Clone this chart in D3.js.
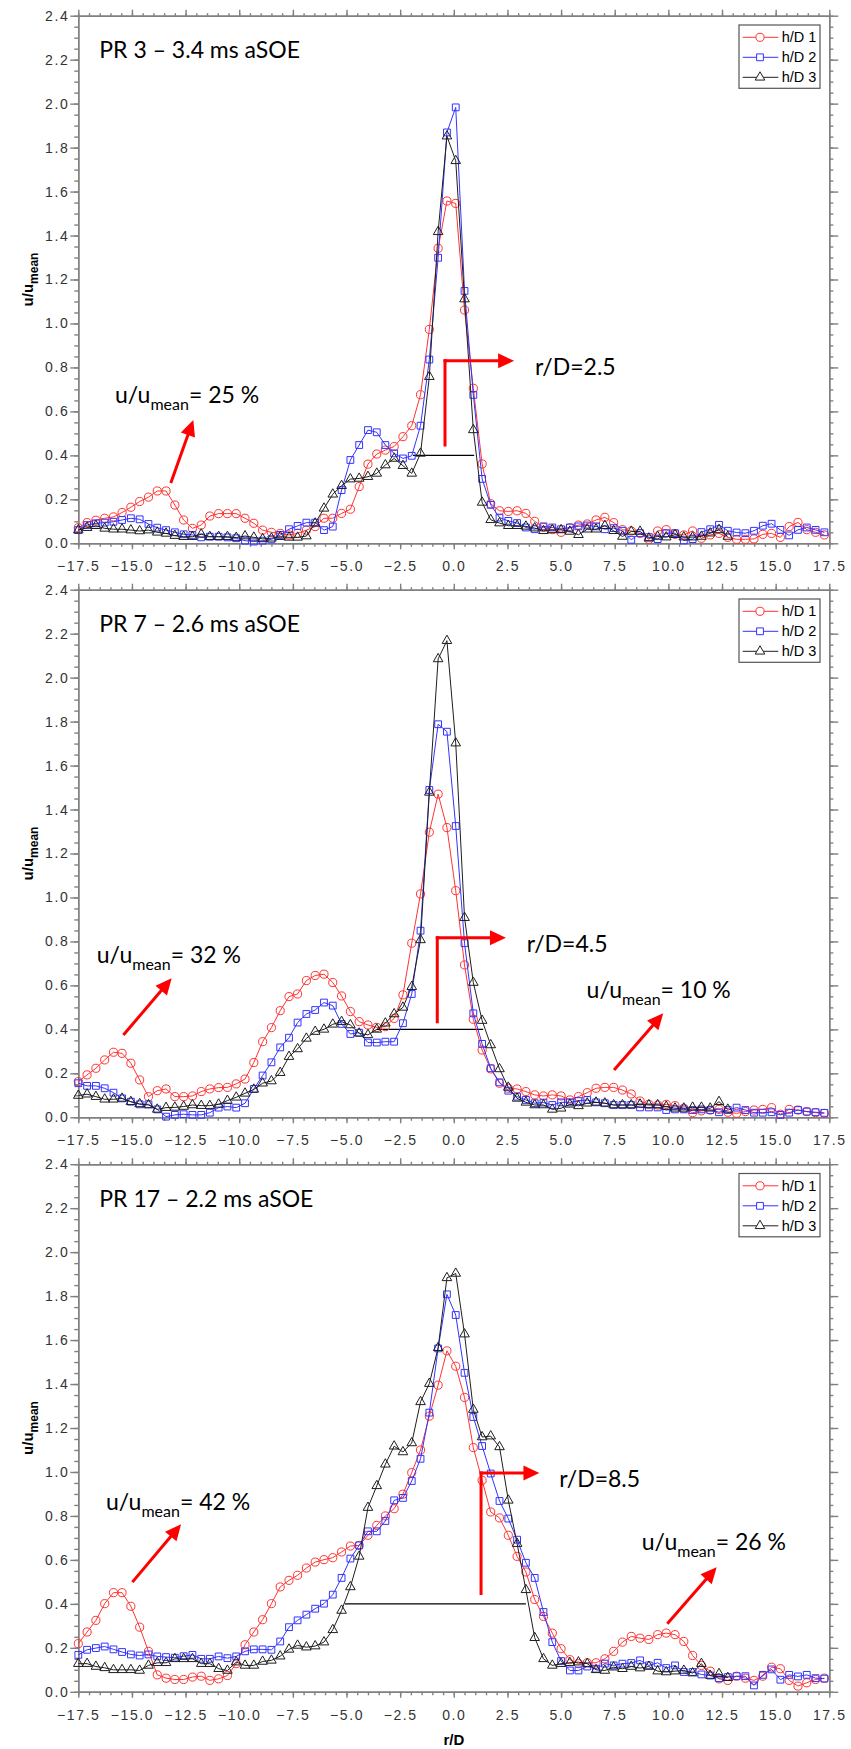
<!DOCTYPE html>
<meta charset="utf-8">
<html>
<head>
<style>
  body { margin: 0; background: #fff; }
  .axis path, .axis line { stroke: #808080; stroke-width: 1.4px; }
  .axis text { font-family: "Liberation Sans", Arial, sans-serif; font-size: 14px; fill: #333; letter-spacing: 1.6px; }
  .series { fill: none; stroke-width: 1px; }
  .mark { fill: none; stroke-width: 1px; }
  .big { font-family: Lato, "Open Sans", sans-serif; font-size: 23px; fill: #000; }
  .lab { font: bold 15px "Liberation Sans", Arial, sans-serif; fill: #000; }
  .leg { font: 14.5px "Liberation Sans", Arial, sans-serif; fill: #000; }
</style>
<script src="https://d3js.org/d3.v7.min.js"></script>
</head>
<body>
<svg id="svg" width="851" height="1749"></svg>
<script>

    // r/D positions of the measuring points (same grid for every profile)
    var rD = [-17.50, -17.09, -16.68, -16.27, -15.86, -15.46, -15.05, -14.64, -14.23, -13.82,
        -13.41, -13.00, -12.59, -12.18, -11.77, -11.37, -10.96, -10.55, -10.14, -9.73,
        -9.32, -8.91, -8.50, -8.09, -7.68, -7.28, -6.87, -6.46, -6.05, -5.64,
        -5.23, -4.82, -4.41, -4.00, -3.59, -3.19, -2.78, -2.37, -1.96, -1.55,
        -1.14, -0.73, -0.32, 0.09, 0.50, 0.91, 1.32, 1.72, 2.13, 2.54,
        2.95, 3.36, 3.77, 4.18, 4.59, 5.00, 5.41, 5.81, 6.22, 6.63,
        7.04, 7.45, 7.86, 8.27, 8.68, 9.09, 9.50, 9.90, 10.31, 10.72,
        11.13, 11.54, 11.95, 12.36, 12.77, 13.18, 13.59, 13.99, 14.40, 14.81,
        15.22, 15.63, 16.04, 16.45, 16.86, 17.27];

    // PR 3 - 3.4 ms aSOE
    var pr3Hd1 = [0.071, 0.094, 0.105, 0.114, 0.12, 0.14, 0.164, 0.19, 0.21, 0.238,
        0.238, 0.174, 0.106, 0.068, 0.083, 0.124, 0.135, 0.135, 0.135, 0.114,
        0.091, 0.06, 0.05, 0.045, 0.038, 0.045, 0.06, 0.076, 0.114, 0.114,
        0.136, 0.155, 0.258, 0.36, 0.406, 0.424, 0.44, 0.485, 0.535, 0.676,
        0.973, 1.342, 1.557, 1.546, 1.061, 0.705, 0.361, 0.18, 0.148, 0.145,
        0.148, 0.136, 0.1, 0.072, 0.062, 0.05, 0.07, 0.083, 0.088, 0.106,
        0.118, 0.094, 0.062, 0.056, 0.045, 0.018, 0.056, 0.062, 0.041, 0.038,
        0.056, 0.023, 0.038, 0.045, 0.027, 0.018, 0.018, 0.02, 0.041, 0.045,
        0.027, 0.076, 0.095, 0.062, 0.05, 0.038];
    var pr3Hd2 = [0.06, 0.083, 0.091, 0.094, 0.098, 0.106, 0.114, 0.109, 0.088, 0.071,
        0.06, 0.05, 0.041, 0.038, 0.027, 0.03, 0.03, 0.027, 0.023, 0.012,
        0.008, 0.012, 0.018, 0.038, 0.064, 0.079, 0.094, 0.094, 0.06, 0.076,
        0.242, 0.379, 0.447, 0.515, 0.505, 0.447, 0.409, 0.386, 0.398, 0.535,
        0.836, 1.299, 1.869, 1.983, 1.148, 0.675, 0.293, 0.175, 0.117, 0.102,
        0.092, 0.072, 0.064, 0.077, 0.072, 0.064, 0.072, 0.077, 0.081, 0.077,
        0.064, 0.069, 0.057, 0.016, 0.046, 0.028, 0.019, 0.046, 0.046, 0.013,
        0.019, 0.051, 0.064, 0.084, 0.057, 0.049, 0.046, 0.057, 0.08, 0.089,
        0.061, 0.036, 0.061, 0.072, 0.061, 0.05];
    var pr3Hd3 = [0.06, 0.071, 0.08, 0.068, 0.064, 0.064, 0.06, 0.056, 0.06, 0.05,
        0.045, 0.035, 0.03, 0.03, 0.041, 0.03, 0.03, 0.03, 0.026, 0.033,
        0.027, 0.02, 0.023, 0.03, 0.027, 0.027, 0.033, 0.091, 0.159, 0.223,
        0.262, 0.292, 0.295, 0.303, 0.318, 0.356, 0.386, 0.353, 0.318, 0.409,
        0.758, 1.417, 1.852, 1.74, 1.111, 0.516, 0.186, 0.107, 0.092, 0.08,
        0.08, 0.077, 0.069, 0.057, 0.061, 0.061, 0.054, 0.039, 0.064, 0.064,
        0.08, 0.057, 0.031, 0.054, 0.054, 0.023, 0.031, 0.028, 0.039, 0.028,
        0.028, 0.031, 0.046, 0.061, 0.031, null, null, null, null, null,
        null, null, null, null, null, null];

    // PR 7 - 2.6 ms aSOE
    var pr7Hd1 = [0.162, 0.193, 0.223, 0.261, 0.296, 0.291, 0.246, 0.17, 0.094, 0.121,
        0.129, 0.094, 0.094, 0.097, 0.117, 0.129, 0.135, 0.136, 0.152, 0.174,
        0.249, 0.344, 0.408, 0.485, 0.549, 0.561, 0.622, 0.645, 0.651, 0.613,
        0.552, 0.481, 0.435, 0.42, 0.409, 0.412, 0.45, 0.557, 0.792, 1.016,
        1.297, 1.47, 1.318, 1.031, 0.693, 0.446, 0.306, 0.22, 0.155, 0.132,
        0.129, 0.117, 0.102, 0.097, 0.102, 0.097, 0.079, 0.094, 0.112, 0.132,
        0.136, 0.136, 0.124, 0.106, 0.074, 0.059, 0.056, 0.059, 0.053, 0.041,
        0.021, 0.029, 0.033, 0.036, 0.023, 0.018, 0.026, 0.033, 0.036, 0.044,
        0.014, 0.036, 0.033, 0.026, 0.021, 0.018];
    var pr7Hd2 = [0.155, 0.143, 0.143, 0.132, 0.112, 0.086, 0.071, 0.059, 0.059, 0.036,
        0.003, 0.011, 0.014, 0.011, 0.011, 0.021, 0.044, 0.049, 0.044, 0.064,
        0.129, 0.19, 0.25, 0.318, 0.362, 0.431, 0.47, 0.488, 0.522, 0.508,
        0.425, 0.379, 0.385, 0.34, 0.34, 0.344, 0.344, 0.428, 0.561, 0.849,
        1.489, 1.788, 1.754, 1.325, 0.792, 0.473, 0.334, 0.223, 0.159, 0.121,
        0.094, 0.079, 0.064, 0.067, 0.056, 0.068, 0.068, 0.074, 0.079, 0.068,
        0.064, 0.056, 0.056, 0.056, 0.045, 0.045, 0.045, 0.033, 0.036, 0.036,
        0.033, 0.036, 0.033, 0.023, 0.033, 0.044, 0.033, 0.021, 0.021, 0.023,
        0.011, 0.021, 0.033, 0.026, 0.023, 0.02];
    var pr7Hd3 = [0.099, 0.105, 0.094, 0.082, 0.082, 0.086, 0.071, 0.061, 0.056, 0.036,
        0.044, 0.045, 0.049, 0.056, 0.053, 0.053, 0.059, 0.076, 0.091, 0.109,
        0.127, 0.155, 0.165, 0.203, 0.276, 0.311, 0.359, 0.39, 0.4, 0.423,
        0.435, 0.42, 0.382, 0.375, 0.4, 0.428, 0.47, 0.5, 0.594, 0.807,
        1.478, 2.085, 2.168, 1.702, 0.908, 0.613, 0.44, 0.329, 0.22, 0.136,
        0.086, 0.068, 0.056, 0.056, 0.036, 0.041, 0.059, 0.052, 0.064, 0.068,
        0.064, 0.056, 0.056, 0.056, 0.059, 0.056, 0.056, 0.049, 0.041, 0.041,
        0.045, 0.045, 0.041, 0.071, 0.036, null, null, null, null, null,
        null, null, null, null, null, null];

    // PR 17 - 2.2 ms aSOE
    var pr17Hd1 = [0.219, 0.272, 0.325, 0.401, 0.451, 0.451, 0.389, 0.294, 0.184, 0.077,
        0.062, 0.056, 0.056, 0.067, 0.071, 0.052, 0.059, 0.074, 0.128, 0.214,
        0.272, 0.328, 0.401, 0.477, 0.507, 0.53, 0.563, 0.59, 0.601, 0.61,
        0.636, 0.663, 0.666, 0.712, 0.757, 0.8, 0.833, 0.899, 0.997, 1.1,
        1.254, 1.395, 1.551, 1.481, 1.339, 1.111, 0.962, 0.818, 0.791, 0.712,
        0.616, 0.545, 0.42, 0.343, 0.267, 0.196, 0.146, 0.128, 0.132, 0.132,
        0.15, 0.184, 0.226, 0.252, 0.244, 0.238, 0.26, 0.267, 0.26, 0.229,
        0.165, 0.12, 0.094, 0.059, 0.052, 0.071, 0.062, 0.052, 0.071, 0.112,
        0.105, 0.052, 0.026, 0.041, 0.056, 0.062];
    var pr17Hd2 = [0.168, 0.191, 0.199, 0.206, 0.193, 0.181, 0.17, 0.165, 0.17, 0.161,
        0.158, 0.155, 0.162, 0.168, 0.15, 0.15, 0.161, 0.153, 0.161, 0.184,
        0.193, 0.193, 0.191, 0.229, 0.294, 0.325, 0.351, 0.378, 0.401, 0.442,
        0.518, 0.606, 0.666, 0.73, 0.73, 0.777, 0.871, 0.882, 0.959, 1.06,
        1.27, 1.562, 1.808, 1.714, 1.451, 1.25, 1.118, 0.993, 0.868, 0.788,
        0.692, 0.587, 0.518, 0.363, 0.226, 0.14, 0.097, 0.097, 0.115, 0.105,
        0.128, 0.12, 0.128, 0.131, 0.143, 0.12, 0.132, 0.108, 0.12, 0.09,
        0.09, 0.079, 0.074, 0.062, 0.067, 0.071, 0.071, 0.029, 0.077, 0.102,
        0.055, 0.077, 0.07, 0.077, 0.062, 0.06];
    var pr17Hd3 = [0.128, 0.128, 0.115, 0.109, 0.1, 0.1, 0.1, 0.097, 0.12, 0.132,
        0.132, 0.15, 0.15, 0.15, 0.128, 0.128, 0.105, 0.097, 0.135, 0.12,
        0.12, 0.138, 0.143, 0.162, 0.193, 0.211, 0.203, 0.208, 0.226, 0.282,
        0.37, 0.477, 0.616, 0.838, 0.937, 1.035, 1.117, 1.091, 1.132, 1.319,
        1.402, 1.565, 1.883, 1.903, 1.627, 1.284, 1.159, 1.163, 1.114, 0.871,
        0.674, 0.464, 0.246, 0.15, 0.12, 0.128, 0.132, 0.135, 0.128, 0.1,
        0.097, 0.112, 0.105, 0.115, 0.108, 0.115, 0.094, 0.09, 0.094, 0.097,
        0.085, 0.128, 0.074, 0.082, 0.064, null, null, null, null, null,
        null, null, null, null, null, null];

    var seriesNames = ["h/D 1", "h/D 2", "h/D 3"];
    var titles = ["PR 3 \u2013 3.4 ms aSOE", "PR 7 \u2013 2.6 ms aSOE", "PR 17 \u2013 2.2 ms aSOE"];
    var xTicks = [-17.5, -15, -12.5, -10, -7.5, -5, -2.5, 0, 2.5, 5, 7.5, 10, 12.5, 15, 17.5];
    var yTicks = [0, 0.2, 0.4, 0.6, 0.8, 1.0, 1.2, 1.4, 1.6, 1.8, 2.0, 2.2, 2.4];

    // jet width at u/umean = 0.4 (black line) and its label
    var widthSpan = [[-1.9, 0.95], [-3.59, 1.37], [-5.07, 3.36]];
    var widthText = ["r/D=2.5", "r/D=4.5", "r/D=8.5"];
    var widthLevel = 0.4;

    // side lobe annotations: text anchor, arrow start, arrow tip (data coords)
    var lobes = [
        [{pct: "25 %", at: [-15.79, 0.637], from: [-13.19, 0.274], to: [-12.14, 0.561]}],
        [{pct: "32 %", at: [-16.64, 0.70], from: [-15.40, 0.374], to: [-13.15, 0.632]},
         {pct: "10 %", at: [6.19, 0.541], from: [7.47, 0.215], to: [9.76, 0.473]}],
        [{pct: "42 %", at: [-16.21, 0.826], from: [-14.98, 0.499], to: [-12.71, 0.762]},
         {pct: "26 %", at: [8.76, 0.643], from: [9.95, 0.31], to: [12.25, 0.567]}]
    ];
    // red bent arrow pointing at the width label
    var brackets = [
        {x: -0.41, y0: 0.44, y1: 0.83, tip: 2.81, text: [3.78, 0.766]},
        {x: -0.77, y0: 0.428, y1: 0.817, tip: 2.43, text: [3.40, 0.753]},
        {x: 1.27, y0: 0.44, y1: 0.995, tip: 3.99, text: [4.92, 0.932]}
    ];

    var panels = [
        [pr3Hd1, pr3Hd2, pr3Hd3],
        [pr7Hd1, pr7Hd2, pr7Hd3],
        [pr17Hd1, pr17Hd2, pr17Hd3]
    ];

    var svg = d3.select("svg");
    var left = 78.3, right = 829.3, plotH = 527.6;
    var tops = [15.7, 589.7, 1164.2];
    var colors = ["#ff3333", "#3333ff", "#1e1e1e"];
    var shapes = [d3.symbolCircle, d3.symbolSquare, d3.symbolTriangle];
    var sizes = [52, 46, 40];

    var x = d3.scaleLinear().domain([-17.5, 17.5]).range([left, right]);
    var xMinor = d3.range(-17.5, 17.51, 0.5);
    var yMinor = d3.range(0, 2.401, 0.05);

    function arrow(g, x1, y1, x2, y2) {
        var dx = x2 - x1, dy = y2 - y1, len = Math.sqrt(dx * dx + dy * dy);
        var ux = dx / len, uy = dy / len, hl = 16, hw = 7.5;
        var bx = x2 - ux * hl, by = y2 - uy * hl;
        g.append("line")
            .attr("x1", x1).attr("y1", y1).attr("x2", bx + ux).attr("y2", by + uy)
            .attr("stroke", "#ff0000").attr("stroke-width", 3);
        g.append("path")
            .attr("d", "M" + x2 + "," + y2 + "L" + (bx - uy * hw) + "," + (by + ux * hw)
                + "L" + (bx + uy * hw) + "," + (by - ux * hw) + "Z")
            .attr("fill", "#ff0000");
    }

    function uText(g, px, py, pct) {
        var t = g.append("text").attr("class", "big").attr("x", px).attr("y", py);
        t.append("tspan").text("u/u");
        t.append("tspan").attr("dy", 7).style("font-size", "16px").text("mean");
        t.append("tspan").attr("dy", -7).text("= " + pct);
    }

    panels.forEach(function (data, p) {
        var top = tops[p];
        var y = d3.scaleLinear().domain([0, 2.4]).range([top + plotH, top]);
        var g = svg.append("g");

        // axes: minor ticks first, then major
        var bottom = g.append("g").attr("class", "axis").attr("transform", "translate(0," + (top + plotH) + ")");
        bottom.call(d3.axisBottom(x).tickValues(xMinor).tickSize(3.5).tickSizeOuter(0).tickFormat(""));
        bottom.append("g").call(d3.axisBottom(x).tickValues(xTicks).tickSize(6).tickSizeOuter(0)
            .tickPadding(12).tickFormat(d3.format(".1f")));
        var topAx = g.append("g").attr("class", "axis").attr("transform", "translate(0," + top + ")");
        topAx.call(d3.axisTop(x).tickValues(xMinor).tickSize(2.5).tickSizeOuter(0).tickFormat(""));
        topAx.append("g").call(d3.axisTop(x).tickValues(xTicks).tickSize(6).tickSizeOuter(0).tickFormat(""));
        var leftAx = g.append("g").attr("class", "axis").attr("transform", "translate(" + left + ",0)");
        leftAx.call(d3.axisLeft(y).tickValues(yMinor).tickSize(4).tickSizeOuter(0).tickFormat(""));
        leftAx.append("g").call(d3.axisLeft(y).tickValues(yTicks).tickSize(8).tickSizeOuter(0)
            .tickPadding(1).tickFormat(d3.format(".1f")));
        var rightAx = g.append("g").attr("class", "axis").attr("transform", "translate(" + right + ",0)");
        rightAx.call(d3.axisRight(y).tickValues(yMinor).tickSize(4).tickSizeOuter(0).tickFormat(""));
        rightAx.append("g").call(d3.axisRight(y).tickValues(yTicks).tickSize(9).tickSizeOuter(0).tickFormat(""));

        // y label
        var yl = g.append("text").attr("class", "lab").attr("text-anchor", "middle")
            .attr("transform", "translate(33," + (top + plotH / 2) + ") rotate(-90)");
        yl.append("tspan").text("u/u");
        yl.append("tspan").attr("dy", 5).style("font-size", "12px").text("mean");

        // jet width line
        g.append("line")
            .attr("x1", x(widthSpan[p][0])).attr("x2", x(widthSpan[p][1]))
            .attr("y1", y(widthLevel)).attr("y2", y(widthLevel))
            .attr("stroke", "#000").attr("stroke-width", 1.2);

        // series
        data.forEach(function (vals, s) {
            var pts = rD.map(function (r, i) { return [r, vals[i]]; })
                .filter(function (d) { return d[1] != null; });
            g.append("path").attr("class", "series")
                .attr("stroke", colors[s])
                .attr("d", d3.line().x(function (d) { return x(d[0]); }).y(function (d) { return y(d[1]); })(pts));
            g.selectAll(null).data(pts).enter().append("path")
                .attr("class", "mark")
                .attr("stroke", colors[s])
                .attr("transform", function (d) { return "translate(" + x(d[0]) + "," + y(d[1]) + ")"; })
                .attr("d", d3.symbol().type(shapes[s]).size(sizes[s]));
        });

        // title
        g.append("text").attr("class", "big").attr("x", left + 21).attr("y", top + 42.6).text(titles[p]);

        // legend
        var lg = g.append("g").attr("transform", "translate(739," + (top + 9.3) + ")");
        lg.append("rect").attr("width", 81).attr("height", 63.3)
            .attr("fill", "#fff").attr("stroke", "#555").attr("stroke-width", 1.2);
        seriesNames.forEach(function (name, s) {
            var ly = 12.3 + s * 20;
            lg.append("line").attr("x1", 3.7).attr("x2", 39.3).attr("y1", ly).attr("y2", ly)
                .attr("stroke", colors[s]).attr("stroke-width", 1);
            lg.append("path").attr("transform", "translate(21," + ly + ")")
                .attr("d", d3.symbol().type(shapes[s]).size(sizes[s]))
                .attr("fill", "#fff").attr("stroke", colors[s]);
            lg.append("text").attr("class", "leg").attr("x", 42.7).attr("y", ly + 5).text(name);
        });

        // side lobe annotations
        lobes[p].forEach(function (a) {
            uText(g, x(a.at[0]), y(a.at[1]), a.pct);
            arrow(g, x(a.from[0]), y(a.from[1]), x(a.to[0]), y(a.to[1]));
        });

        // bent arrow + width text
        var b = brackets[p];
        g.append("path")
            .attr("d", "M" + x(b.x) + "," + y(b.y0) + "V" + y(b.y1) + "H" + (x(b.x) + 2))
            .attr("fill", "none").attr("stroke", "#ff0000").attr("stroke-width", 3);
        arrow(g, x(b.x) - 1.5, y(b.y1), x(b.tip), y(b.y1));
        g.append("text").attr("class", "big").attr("x", x(b.text[0])).attr("y", y(b.text[1])).text(widthText[p]);
    });

    svg.append("text").attr("class", "lab").attr("x", (left + right) / 2).attr("y", 1745)
        .attr("text-anchor", "middle").text("r/D");

</script>
</body>
</html>
